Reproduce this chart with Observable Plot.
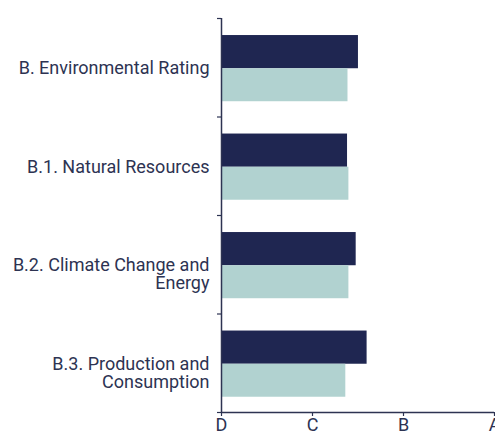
<!DOCTYPE html>
<html>
<head>
<meta charset="utf-8">
<script src="https://cdn.jsdelivr.net/npm/d3@7"></script>
<script src="https://cdn.jsdelivr.net/npm/@observablehq/plot@0.6"></script>
<style>
  html, body { margin: 0; padding: 0; background: #fff; overflow: hidden; }
  #chart svg { overflow: visible; }
</style>
</head>
<body>
<div id="chart"></div>
<script>
// Categories (top to bottom)
const categories = [
  "B. Environmental Rating",
  "B.1. Natural Resources",
  "B.2. Climate Change and\nEnergy",
  "B.3. Production and\nConsumption"
];
// Rating scale: D=0, C=1, B=2, A=3
const gradeValues = [0, 1, 2, 3];
const gradeLabels = ["D", "C", "B", "A"];
// Series values (in rating units)
const seriesDark = [1.505, 1.385, 1.48, 1.60];
const seriesLight = [1.39, 1.40, 1.40, 1.366];

const rows = [];
categories.forEach((c, i) => {
  rows.push({cat: c, i, series: "dark", value: seriesDark[i]});
  rows.push({cat: c, i, series: "light", value: seriesLight[i]});
});

const textColor = "#2d3352";
const axisColor = "#2d3352";
const darkColor = "#1f2651";
const lightColor = "#b1d2d0";

const band = {dark: [0.173, 0.51], light: [0.51, 0.845]};
const fs = 18;

const chart = Plot.plot({
  width: 495,
  height: 432,
  marginTop: 18,
  marginBottom: 20,
  marginLeft: 221,
  marginRight: 1,
  style: {fontFamily: "Roboto, sans-serif", fontSize: fs + "px", color: textColor, background: "#fff"},
  x: {domain: [0, 3], axis: null, label: null},
  y: {domain: [0, categories.length], range: [18, 412], axis: null, label: null},
  marks: [
    Plot.rectX(rows, {
      x1: 0,
      x2: "value",
      y1: d => d.i + band[d.series][0],
      y2: d => d.i + band[d.series][1],
      fill: d => d.series === "dark" ? darkColor : lightColor
    }),
    // left axis line with boundary ticks
    Plot.axisY(d3.range(categories.length + 1), {
      anchor: "left", tickSize: 4, tickFormat: () => "", label: null, stroke: axisColor, strokeWidth: 1.2
    }),
    Plot.ruleX([0], {stroke: axisColor, strokeWidth: 1.5}),
    // category labels
    Plot.text(categories, {
      x: 0,
      y: (d, i) => i + 0.5,
      text: d => d,
      textAnchor: "end",
      lineAnchor: "top",
      dx: -12,
      dy: -6.4,
      lineHeight: 1.0,
      fill: textColor,
      fontSize: fs
    }),
    // bottom axis
    Plot.axisX(gradeValues, {
      anchor: "bottom",
      tickSize: 4,
      tickPadding: 2,
      label: null,
      tickFormat: (d) => gradeLabels[gradeValues.indexOf(d)],
      stroke: axisColor,
      strokeWidth: 1.2,
      fill: textColor,
      fontSize: fs
    }),
    Plot.ruleY([categories.length], {stroke: axisColor, strokeWidth: 1.5})
  ]
});
document.getElementById("chart").appendChild(chart);
</script>
</body>
</html>
